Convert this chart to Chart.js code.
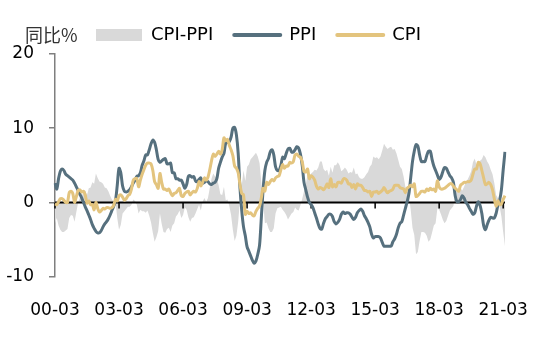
<!DOCTYPE html>
<html>
<head>
<meta charset="utf-8">
<script src="https://cdn.jsdelivr.net/npm/chart.js@4"></script>
<style>
html, body { margin: 0; padding: 0; background: #fff; }
#wrap { width: 544px; height: 346px; }
</style>
</head>
<body>
<div id="wrap"><canvas id="grafico" width="544" height="346"></canvas></div>
<script>
// ── DATOS (mensual, 2000-03 a 2021-04, % a/a) ──
var ppi = [
    2.6, 1.8, 3.2, 4.2, 4.5, 4.3, 3.8, 3.6, 3.4, 3.2,            // 2000
    3.0, 2.6, 2.1, 1.6, 1.1, 0.6, 0.0, -0.6, -1.1, -1.7, -2.3, -3.0, // 2001
    -3.5, -3.9, -4.1, -4.1, -3.8, -3.3, -2.9, -2.6, -2.2, -1.7, -1.1, -0.5, // 2002
    0.2, 2.3, 4.6, 4.0, 2.2, 1.5, 1.4, 1.5, 1.7, 2.1, 2.6, 3.0,  // 2003
    3.5, 3.6, 4.0, 5.0, 5.6, 6.4, 6.4, 7.1, 7.9, 8.4, 8.1, 7.1,  // 2004
    5.8, 5.4, 5.6, 5.8, 5.9, 5.2, 5.2, 5.3, 4.0, 4.0, 3.2, 3.2,  // 2005
    3.0, 3.0, 2.5, 1.9, 2.4, 3.5, 3.6, 3.4, 3.5, 2.9, 2.8, 3.1,  // 2006
    3.3, 2.6, 2.7, 2.9, 2.8, 2.5, 2.4, 2.6, 2.7, 3.2, 4.6, 5.4,  // 2007
    6.1, 6.6, 8.0, 8.1, 8.2, 8.8, 10.0, 10.1, 9.1, 6.6, 2.0, -1.1, // 2008
    -3.3, -4.5, -6.0, -6.6, -7.2, -7.8, -8.2, -7.9, -7.0, -5.8, -2.1, 1.7, // 2009
    4.3, 5.4, 5.9, 6.8, 7.1, 6.4, 4.8, 4.3, 4.3, 5.0, 6.1, 5.9,  // 2010
    6.6, 7.2, 7.3, 6.8, 6.8, 7.1, 7.5, 7.3, 6.5, 5.0, 2.7, 1.7,  // 2011
    0.7, 0.0, -0.3, -0.7, -1.4, -2.1, -2.9, -3.5, -3.6, -2.8, -2.2, -1.9, // 2012
    -1.6, -1.6, -1.9, -2.6, -2.9, -2.7, -2.3, -1.6, -1.3, -1.5, -1.4, -1.4, // 2013
    -1.6, -2.0, -2.3, -2.0, -1.4, -1.1, -0.9, -1.2, -1.8, -2.2, -2.7, -3.3, // 2014
    -4.3, -4.8, -4.6, -4.6, -4.6, -4.8, -5.4, -5.9, -5.9, -5.9, -5.9, -5.9, // 2015
    -5.3, -4.9, -4.3, -3.4, -2.8, -2.6, -1.7, -0.8, 0.1, 1.2, 3.3, 5.5, // 2016
    6.9, 7.8, 7.6, 6.4, 5.5, 5.5, 5.5, 6.3, 6.9, 6.9, 5.8, 4.9,  // 2017
    4.3, 3.7, 3.1, 3.4, 4.1, 4.7, 4.6, 4.1, 3.6, 3.3, 2.7, 0.9,  // 2018
    0.1, 0.1, 0.4, 0.9, 0.6, 0.0, -0.3, -0.8, -1.2, -1.6, -1.4, -0.5, // 2019
    0.1, -0.4, -1.5, -3.1, -3.7, -3.0, -2.4, -2.0, -2.1, -2.1, -1.5, -0.4, // 2020
    0.3, 1.7, 4.4, 6.8                                           // 2021
];

var cpi = [
    -0.2, -0.3, 0.1, 0.5, 0.5, 0.3, 0.0, 0.0, 1.3, 1.5,          // 2000
    1.2, 0.0, 0.8, 1.6, 1.7, 1.4, 1.5, 1.0, -0.1, 0.2, -0.3, -0.3, // 2001
    -1.0, 0.0, -0.8, -1.3, -1.1, -0.8, -0.9, -0.7, -0.7, -0.8, -0.7, -0.4, // 2002
    0.4, 0.2, 0.9, 1.0, 0.7, 0.3, 0.5, 0.9, 1.1, 1.8, 3.0, 3.2,  // 2003
    3.2, 2.1, 3.0, 3.8, 4.4, 5.0, 5.3, 5.3, 5.2, 4.3, 2.8, 2.4,  // 2004
    1.9, 3.9, 2.7, 1.8, 1.8, 1.6, 1.8, 1.3, 0.9, 1.2, 1.3, 1.6,  // 2005
    1.9, 0.9, 0.8, 1.2, 1.4, 1.5, 1.0, 1.3, 1.5, 1.4, 1.9, 2.8,  // 2006
    2.2, 2.7, 3.3, 3.0, 3.4, 4.4, 5.6, 6.5, 6.2, 6.5, 6.9, 6.5,  // 2007
    7.1, 8.7, 8.3, 8.5, 7.7, 7.1, 6.3, 4.9, 4.6, 4.0, 2.4, 1.2,  // 2008
    1.0, -1.6, -1.2, -1.5, -1.4, -1.7, -1.8, -1.2, -0.8, -0.5, 0.6, 1.9, // 2009
    1.5, 2.7, 2.4, 2.8, 3.1, 2.9, 3.3, 3.5, 3.6, 4.4, 5.1, 4.6,  // 2010
    4.9, 4.9, 5.4, 5.3, 5.5, 6.4, 6.5, 6.2, 6.1, 5.5, 4.2, 4.1,  // 2011
    4.5, 3.2, 3.6, 3.4, 3.0, 2.2, 1.8, 2.0, 1.9, 1.7, 2.0, 2.5,  // 2012
    2.0, 3.2, 2.1, 2.4, 2.1, 2.7, 2.7, 2.6, 3.1, 3.2, 3.0, 2.5,  // 2013
    2.5, 2.0, 2.4, 1.8, 2.5, 2.3, 2.3, 2.0, 1.6, 1.6, 1.4, 1.5,  // 2014
    0.8, 1.4, 1.4, 1.5, 1.2, 1.4, 1.6, 2.0, 1.6, 1.3, 1.5, 1.6,  // 2015
    1.8, 2.3, 2.3, 2.3, 2.0, 1.9, 1.8, 1.3, 1.9, 2.1, 2.3, 2.1,  // 2016
    2.5, 0.8, 0.9, 1.2, 1.5, 1.5, 1.4, 1.8, 1.6, 1.9, 1.7, 1.8,  // 2017
    1.5, 2.9, 2.1, 1.8, 1.8, 1.9, 2.1, 2.3, 2.5, 2.5, 2.2, 1.9,  // 2018
    1.7, 1.5, 2.3, 2.5, 2.7, 2.7, 2.8, 2.8, 3.0, 3.8, 4.5, 4.5,  // 2019
    5.4, 5.2, 4.3, 3.3, 2.4, 2.5, 2.7, 2.4, 1.7, 0.5, -0.5, 0.2, // 2020
    -0.3, -0.2, 0.4, 0.9                                         // 2021
];

// diferencial CPI-PPI
var cpiPpi = cpi.map(function(v, i) { return Math.round((v - ppi[i]) * 10) / 10; });

// etiquetas mensuales YY-MM, arrancando en 2000-03
var meses = [];
for (var k = 0; k < ppi.length; k++) {
    var m = 2 + k;
    var yy = Math.floor(m / 12), mm = m % 12 + 1;
    meses.push((yy < 10 ? '0' : '') + yy + '-' + (mm < 10 ? '0' : '') + mm);
}
var tickLabels = ['00-03', '03-03', '06-03', '09-03', '12-03', '15-03', '18-03', '21-03'];
var yTicks = [-10, 0, 10, 20];

var colArea = '#d9d9d9';
var colPpi = '#56707e';
var colCpi = '#e3c47e';
var fuente = 'DejaVu Sans';

// linea de cero + marcas del eje x, dibujada encima del area y debajo de las lineas
var ejeCero = {
    id: 'ejeCero',
    afterDatasetDraw: function(chart, args) {
        if (args.index !== 0) return;
        var ctx = chart.ctx, xs = chart.scales.x, ys = chart.scales.y, area = chart.chartArea;
        var y0 = ys.getPixelForValue(0);
        ctx.save();
        ctx.strokeStyle = '#000';
        ctx.lineWidth = 2;
        ctx.beginPath();
        ctx.moveTo(area.left, y0);
        ctx.lineTo(area.right, y0);
        ctx.stroke();
        ctx.lineWidth = 1.5;
        ctx.beginPath();
        tickLabels.forEach(function(l) {
            var x = xs.getPixelForValue(meses.indexOf(l));
            ctx.moveTo(x, y0);
            ctx.lineTo(x, y0 + 6);
        });
        ctx.stroke();
        ctx.restore();
    },
    afterDraw: function(chart) {
        var ctx = chart.ctx;
        ctx.save();
        ctx.fillStyle = '#333';
        ctx.font = '18px "Noto Sans CJK SC", "DejaVu Sans"';
        ctx.textBaseline = 'middle';
        ctx.fillText('同比%', 25, 35);
        ctx.restore();
    }
};

new Chart(document.getElementById('grafico'), {
    type: 'line',
    data: {
        labels: meses,
        datasets: [
            {
                label: 'CPI-PPI',
                data: cpiPpi,
                fill: 'origin',
                backgroundColor: colArea,
                borderColor: 'rgba(0,0,0,0)',
                borderWidth: 0,
                pointRadius: 0,
                tension: 0,
                order: 3
            },
            {
                label: 'PPI',
                data: ppi,
                borderColor: colPpi,
                borderWidth: 3,
                pointRadius: 0,
                tension: 0.3,
                fill: false,
                order: 2
            },
            {
                label: 'CPI',
                data: cpi,
                borderColor: colCpi,
                borderWidth: 3,
                pointRadius: 0,
                tension: 0.3,
                fill: false,
                order: 1
            }
        ]
    },
    options: {
        responsive: false,
        animation: false,
        devicePixelRatio: 1,
        layout: { padding: { top: 5, right: 27, bottom: 9, left: 0 } },
        plugins: {
            tooltip: { enabled: false },
            legend: {
                position: 'top',
                maxHeight: 50,
                labels: {
                    usePointStyle: true,
                    pointStyleWidth: 46,
                    boxHeight: 12,
                    padding: 21,
                    color: '#000',
                    font: { family: fuente, size: 18 },
                    generateLabels: function(chart) {
                        return chart.data.datasets.map(function(ds, i) {
                            var esArea = i === 0;
                            return {
                                text: ds.label,
                                datasetIndex: i,
                                pointStyle: esArea ? 'rect' : 'line',
                                fillStyle: esArea ? colArea : ds.borderColor,
                                strokeStyle: esArea ? colArea : ds.borderColor,
                                lineWidth: esArea ? 0 : 4,
                                lineCap: 'round',
                                fontColor: '#000'
                            };
                        });
                    }
                }
            }
        },
        scales: {
            x: {
                type: 'category',
                offset: false,
                grid: { display: false },
                border: { display: false },
                ticks: {
                    autoSkip: false,
                    maxRotation: 0,
                    padding: 16,
                    color: '#000',
                    font: { family: fuente, size: 17 },
                    callback: function(val) {
                        var l = this.getLabelForValue(val);
                        return tickLabels.indexOf(l) >= 0 ? l : null;
                    }
                }
            },
            y: {
                min: yTicks[0],
                max: yTicks[yTicks.length - 1],
                afterBuildTicks: function(s) { s.ticks = yTicks.map(function(v) { return { value: v }; }); },
                afterFit: function(s) { s.width = 55; },
                ticks: { color: '#000', padding: 15, font: { family: fuente, size: 17 } },
                grid: { drawOnChartArea: false, tickLength: 6, color: '#7f7f7f', lineWidth: 1.5 },
                border: { color: '#7f7f7f', width: 1.5 }
            }
        }
    },
    plugins: [ejeCero]
});
</script>
</body>
</html>
